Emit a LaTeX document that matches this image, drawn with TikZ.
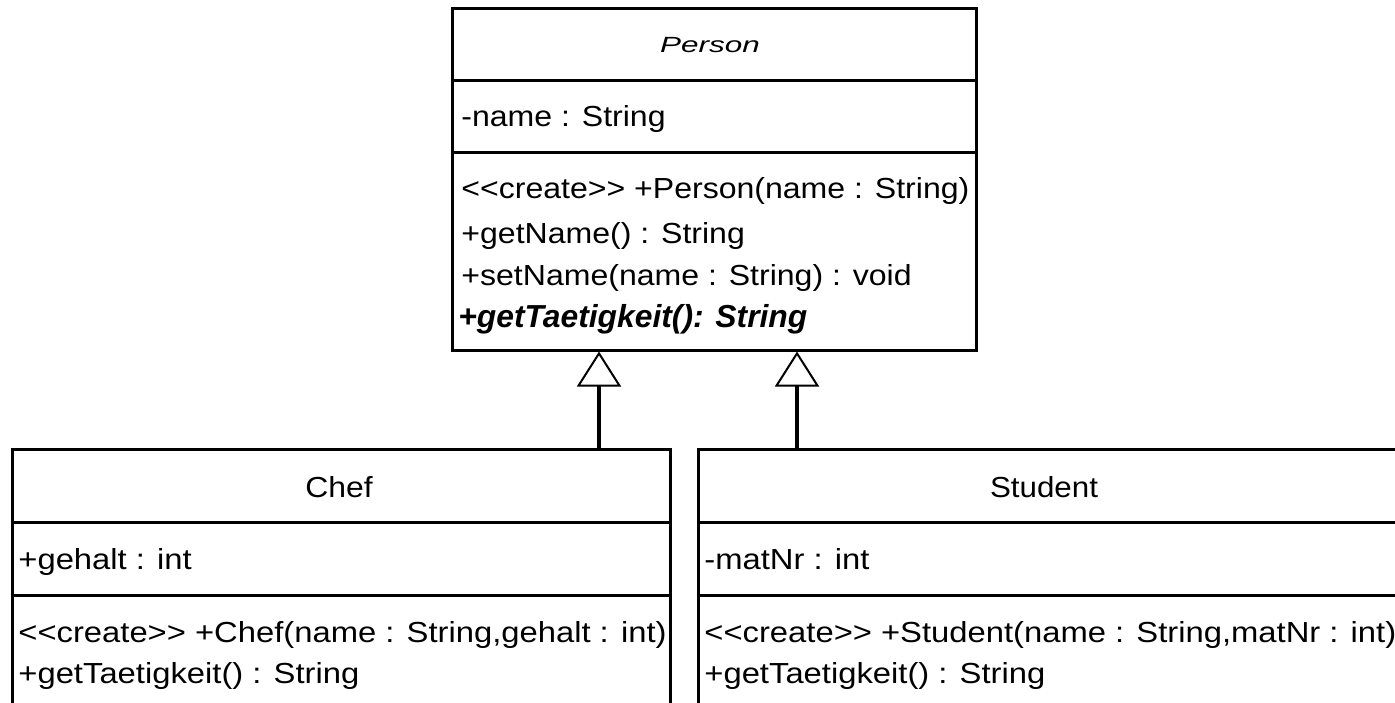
\documentclass[tikz,border=0pt]{standalone}
\usepackage{fontspec}
\setmainfont{Liberation Sans}
\usetikzlibrary{arrows.meta}
\newcommand{\sx}[1]{\scalebox{1.13}[1]{#1}}
\newcommand{\sxp}[1]{\scalebox{1.105}[1]{#1}}
\begin{document}
\begin{tikzpicture}[x=0.5pt,y=-0.5pt,
  box/.style={draw, line width=1.5pt, inner sep=0pt, fill=none},
  sep/.style={line width=1.5pt},
  txt/.style={anchor=base west, inner sep=0pt, font=\fontsize{14.5}{17}\selectfont},
  ttl/.style={anchor=base, inner sep=0pt, font=\fontsize{14.5}{17}\selectfont},
  gen/.style={line width=2pt, -{Triangle[open, length=17.5pt, width=22pt, line width=1pt]}}]
\path[use as bounding box] (0,0) rectangle (1395,702);
\clip (0,0) rectangle (1395,702);
% coordinates
\coordinate (pa) at (0,80);
\coordinate (pb) at (0,152);
\coordinate (ca) at (0,522);
\coordinate (cb) at (0,595);
\coordinate (l1) at (599,0);
\coordinate (l2) at (797,0);
% boxes
\node[box, minimum width=262pt, minimum height=171pt] (person) at (714,179) {};
\node[box, minimum width=329pt, minimum height=155.5pt] (chef) at (341,604.5) {};
\node[box, minimum width=361pt, minimum height=155.5pt] (student) at (1059,604.5) {};
% separators
\draw[sep] (person.west |- pa) -- (person.east |- pa);
\draw[sep] (person.west |- pb) -- (person.east |- pb);
\draw[sep] (chef.west |- ca) -- (chef.east |- ca);
\draw[sep] (chef.west |- cb) -- (chef.east |- cb);
\draw[sep] (student.west |- ca) -- (student.east |- ca);
\draw[sep] (student.west |- cb) -- (student.east |- cb);
% Person texts
\node[anchor=base, inner sep=0pt, font=\fontsize{11}{13}\selectfont\itshape] (ptitle) at (710,52) {\scalebox{1.43}[1]{Person}};
\node[txt] (pattr) at (461,126) {\sxp{-name : String}};
\node[txt] (pm1) at (461,198) {\sxp{<{}<create>{}> +Person(name : String)}};
\node[txt] (pm2) at (461,243) {\sxp{+getName() : String}};
\node[txt] (pm3) at (461,285) {\sxp{+setName(name : String) : void}};
\node[anchor=base west, inner sep=0pt, font=\fontsize{15.9}{18}\selectfont\bfseries\itshape] (pm4) at (458,327) {+getTaetigkeit(): String};
% Chef texts
\node[ttl] (ctitle) at (339,497) {\scalebox{1.1}[1]{Chef}};
\node[txt] (cattr) at (18,569) {\sx{+gehalt : int}};
\node[txt] (cm1) at (18,642) {\sx{<{}<create>{}> +Chef(name : String,gehalt : int)}};
\node[txt] (cm2) at (18,683) {\sx{+getTaetigkeit() : String}};
% Student texts
\node[ttl] (stitle) at (1044,497) {\scalebox{1.08}[1]{Student}};
\node[txt] (sattr) at (704,569) {\sx{-matNr : int}};
\node[txt] (sm1) at (704,642) {\sx{<{}<create>{}> +Student(name : String,matNr : int)}};
\node[txt] (sm2) at (704,683) {\sx{+getTaetigkeit() : String}};
% generalizations
\draw[gen] (chef.north -| l1) -- (person.south -| l1);
\draw[gen] (student.north -| l2) -- (person.south -| l2);
\end{tikzpicture}
\end{document}
